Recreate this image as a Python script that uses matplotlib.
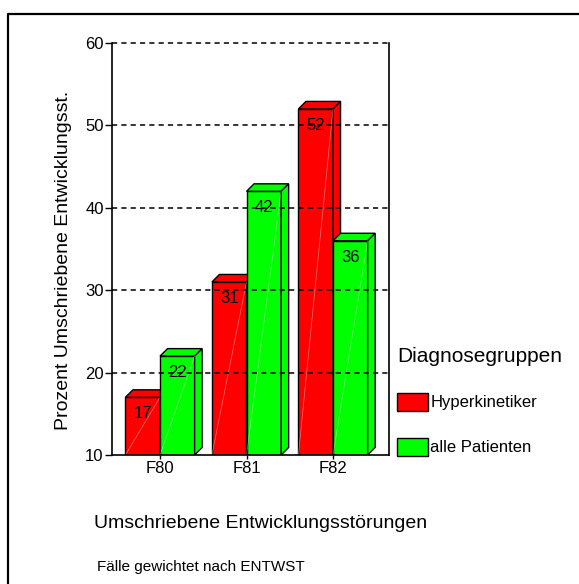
import matplotlib
matplotlib.use("Agg")
import matplotlib.pyplot as plt
from matplotlib.patches import Polygon, Patch
from matplotlib.lines import Line2D
import numpy as np

plt.rcParams["font.family"] = ["Liberation Sans", "DejaVu Sans"]

categories = ["F80", "F81", "F82"]
groups = ["Hyperkinetiker", "alle Patienten"]
hyperkinetiker = [17, 31, 52]
alle_patienten = [22, 42, 36]
colors = ["#ff0000", "#00ff00"]

W, H = 579, 584
fig = plt.figure(figsize=(W / 100, H / 100), dpi=100)
ax = fig.add_axes([112 / W, 1 - 455 / H, 277 / W, 412 / H])

base = 10
width = 0.4
dx, dy = 0.087, 0.91   # fake depth of the 3d boxes, in data units

x = np.arange(len(categories))
for k, (vals, col) in enumerate(zip([hyperkinetiker, alle_patienten], colors)):
    xs = x - width / 2 + k * width
    bars = ax.bar(xs, np.array(vals) - base, width, bottom=base, color=col,
                  edgecolor="black", linewidth=1, zorder=2 + k)
    for b, v in zip(bars, vals):
        l, r = b.get_x(), b.get_x() + b.get_width()
        top = Polygon([(l, v), (l + dx, v + dy), (r + dx, v + dy), (r, v)],
                      closed=True, facecolor=col, edgecolor="black",
                      linewidth=1, zorder=2 + k)
        side = Polygon([(r, base), (r + dx, base + dy), (r + dx, v + dy), (r, v)],
                       closed=True, facecolor=col, edgecolor="black",
                       linewidth=1, zorder=2 + k)
        ax.add_patch(top)
        ax.add_patch(side)
        ax.plot([l, r], [base, v], color="white", lw=0.5, alpha=0.45, zorder=2 + k)
        ax.annotate(str(v), (b.get_x() + b.get_width() / 2, v), xytext=(0, -12),
                    textcoords="offset points", ha="center", va="center",
                    fontsize=12, zorder=6)

ax.set_xlim(-0.555, 2.647)
ax.set_ylim(10, 60)
ax.set_xticks(x)
ax.set_xticklabels(categories)
ax.set_yticks([10, 20, 30, 40, 50, 60])
ax.tick_params(axis="y", length=5, width=1, pad=1, labelsize=12)
ax.tick_params(axis="x", length=3, width=1, pad=1, labelsize=12)

for yv in [20, 30, 40, 50, 60]:
    ax.axhline(yv, color="black", lw=1.1, linestyle=(0, (3.4, 2.7)),
               zorder=5, clip_on=False)

ax.spines["top"].set_visible(False)
for s in ["left", "right", "bottom"]:
    ax.spines[s].set_linewidth(1.2)
    ax.spines[s].set_zorder(6)

fig.text(64 / W, 1 - 260 / H, "Prozent Umschriebene Entwicklungsst.",
         rotation=90, ha="center", va="center", fontsize=14)
fig.text(261 / W, 1 - 523 / H, "Umschriebene Entwicklungsstörungen",
         ha="center", va="center", fontsize=14)
fig.text(97 / W, 1 - 567 / H, "Fälle gewichtet nach ENTWST",
         ha="left", va="center", fontsize=11)

handles = [Patch(facecolor=c, edgecolor="black", linewidth=1) for c in colors]
leg = fig.legend(handles, groups, loc="upper left",
                 bbox_to_anchor=(397 / W, 1 - 347 / H), frameon=False,
                 fontsize=12, title="Diagnosegruppen", title_fontsize=15,
                 alignment="left", borderpad=0, borderaxespad=0,
                 handlelength=1.86, handleheight=1.3, handletextpad=0.15,
                 labelspacing=1.6)

# page frame, only top and left edges show
fig.add_artist(Line2D([8 / W, 8 / W, 1], [0, 1 - 14 / H, 1 - 14 / H],
                      transform=fig.transFigure, color="black", lw=1.6))

fig.savefig("out.png", dpi=100)
